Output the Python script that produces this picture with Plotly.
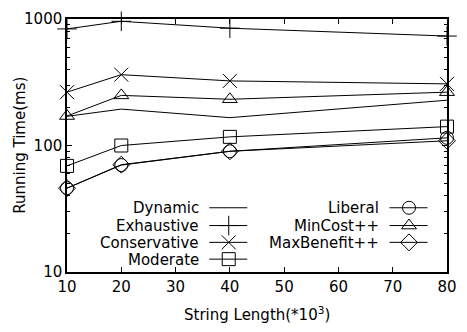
import plotly.graph_objects as go

x_vals = [10, 20, 40, 80]
dynamic = [170, 194, 166, 228]
exhaustive = [835, 959, 846, 733]
conservative = [264, 363, 324, 307]
moderate = [69, 100, 117, 141]
liberal = [46, 70, 90, 115]
mincost = [171, 249, 232, 264]
maxbenefit = [46, 70.5, 90, 109]

series = [
    ("Dynamic", dynamic, None),
    ("Exhaustive", exhaustive, "cross-thin-open"),
    ("Conservative", conservative, "x-thin-open"),
    ("Moderate", moderate, "square-open"),
    ("Liberal", liberal, "circle-open"),
    ("MinCost++", mincost, "triangle-up-open"),
    ("MaxBenefit++", maxbenefit, "diamond-open"),
]
marker_sizes = {"cross-thin-open": 14, "x-thin-open": 14, "square-open": 13,
                "circle-open": 13, "triangle-up-open": 13, "diamond-open": 13}

FONT = "DejaVu Sans, sans-serif"
FS = 15
fig = go.Figure()

for name, ys, sym in series:
    if sym is None:
        fig.add_trace(go.Scatter(x=x_vals, y=ys, mode="lines", name=name,
                                 line=dict(color="black", width=1), showlegend=False))
    else:
        fig.add_trace(go.Scatter(x=x_vals, y=ys, mode="lines+markers", name=name,
                                 line=dict(color="black", width=1),
                                 marker=dict(symbol=sym, size=marker_sizes[sym], color="black",
                                             line=dict(color="black", width=1)),
                                 showlegend=False, cliponaxis=False))

# manual gnuplot-style legend (overlay axis in plot-area fractions)
W, H = 390.0, 256.0
def px(x): return (x - 67) / W
def py(y): return (272 - y) / H

rows_y = [207, 225, 242, 259]
col1 = dict(text_x=203, l0=213, l1=252, m=233)
col2 = dict(text_x=388, l0=398, l1=437, m=418)
annotations = []
for i, (name, ys, sym) in enumerate(series):
    col = col1 if i < 4 else col2
    ry = rows_y[i] if i < 4 else rows_y[i - 4]
    annotations.append(dict(x=px(col["text_x"]), y=py(ry), xref="paper", yref="paper",
                            text=name, showarrow=False, xanchor="right", yanchor="middle",
                            height=17, borderpad=0,
                            font=dict(family=FONT, size=FS, color="black")))
    fig.add_trace(go.Scatter(x=[px(col["l0"]), px(col["l1"])], y=[py(ry), py(ry)],
                             mode="lines", line=dict(color="black", width=1),
                             xaxis="x2", yaxis="y2", showlegend=False, hoverinfo="skip"))
    if sym is not None:
        fig.add_trace(go.Scatter(x=[px(col["m"])], y=[py(ry)], mode="markers",
                                 marker=dict(symbol=sym, size=marker_sizes[sym], color="black",
                                             line=dict(color="black", width=1)),
                                 xaxis="x2", yaxis="y2", showlegend=False, hoverinfo="skip",
                                 cliponaxis=False))

annotations.append(dict(x=px(18), y=py(144), xref="paper", yref="paper",
                        text="Running Time(ms)", showarrow=False, textangle=-90,
                        xanchor="center", yanchor="middle",
                        font=dict(family=FONT, size=FS, color="black")))
annotations.append(dict(x=px(262), y=py(315), xref="paper", yref="paper",
                        text="String Length(*10<sup>3</sup>)", showarrow=False,
                        xanchor="center", yanchor="middle",
                        font=dict(family=FONT, size=FS, color="black")))

fig.update_layout(
    width=467, height=332,
    margin=dict(l=67, r=10, t=16, b=60),
    paper_bgcolor="white", plot_bgcolor="white",
    font=dict(family=FONT, size=FS, color="black"),
    annotations=annotations,
    xaxis=dict(range=[10, 80], tickvals=[10, 20, 30, 40, 50, 60, 70, 80],
               ticks="inside", ticklen=5, tickcolor="black", showline=True,
               linecolor="black", linewidth=1.5, mirror="allticks", showgrid=False,
               zeroline=False, tickfont=dict(family=FONT, size=FS)),
    yaxis=dict(type="log", range=[1, 3], tickvals=[10, 100, 1000],
               ticktext=["10", "100", "1000"],
               ticks="inside", ticklen=5, tickcolor="black", showline=True,
               linecolor="black", linewidth=1.5, mirror="allticks", showgrid=False,
               zeroline=False, tickfont=dict(family=FONT, size=FS),
               minor=dict(tickvals=[20, 30, 40, 50, 60, 70, 80, 90,
                                    200, 300, 400, 500, 600, 700, 800, 900],
                          ticks="inside", ticklen=3, tickcolor="black", showgrid=False)),
    xaxis2=dict(overlaying="x", range=[0, 1], visible=False),
    yaxis2=dict(overlaying="y", range=[0, 1], visible=False),
)

fig.write_html("out.html")
